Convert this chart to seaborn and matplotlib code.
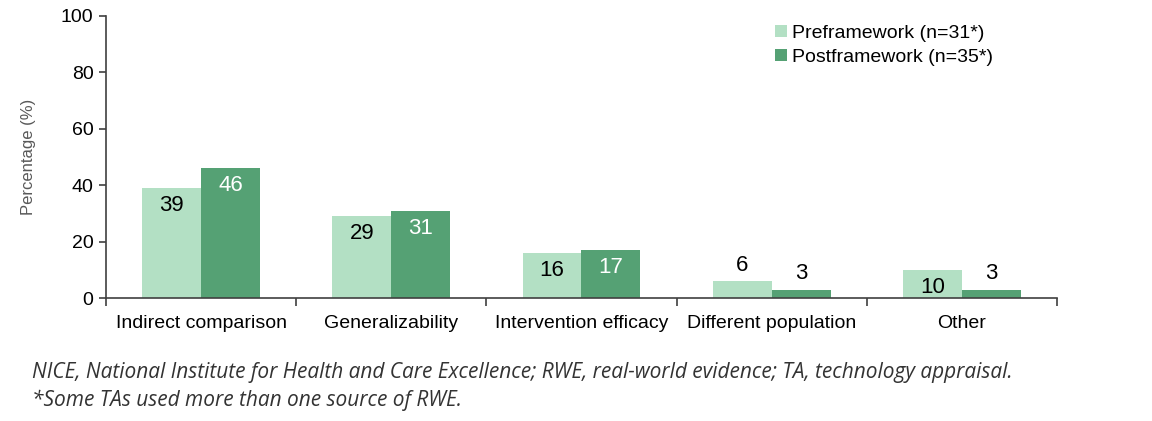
import matplotlib.pyplot as plt
import seaborn as sns
import pandas as pd
import numpy as np

# data
categories = ["Indirect comparison", "Generalizability", "Intervention efficacy",
              "Different population", "Other"]
pre_values = [39, 29, 16, 6, 10]
post_values = [46, 31, 17, 3, 3]
series_names = ["Preframework (n=31*)", "Postframework (n=35*)"]
y_ticks = [0, 20, 40, 60, 80, 100]
footnote = ("NICE, National Institute for Health and Care Excellence; RWE, real-world evidence; "
            "TA, technology appraisal.\n*Some TAs used more than one source of RWE.")

df = pd.DataFrame({
    "category": categories * 2,
    "value": pre_values + post_values,
    "series": [series_names[0]] * len(categories) + [series_names[1]] * len(categories),
})

sns.set_theme(style="white")
plt.rcParams["font.family"] = ["Liberation Sans", "DejaVu Sans"]

fig = plt.figure(figsize=(11.52, 4.21), dpi=100)
ax = fig.add_axes([0.092, 0.292, 0.8255, 0.67])

palette = ["#b3e0c4", "#55a174"]
sns.barplot(data=df, x="category", y="value", hue="series", palette=palette,
            width=0.62, saturation=1, linewidth=0, ax=ax, legend=True)

# value labels
for ci, cont in enumerate(ax.containers):
    for bar, v in zip(cont, pre_values if ci == 0 else post_values):
        x = bar.get_x() + bar.get_width() / 2
        h = bar.get_height()
        if h >= 10:
            col = "black" if ci == 0 else "white"
            ax.annotate(str(v), (x, h), xytext=(0, -5), textcoords="offset points",
                        ha="center", va="top", fontsize=16, color=col)
        else:
            ax.annotate(str(v), (x, h), xytext=(0, 4), textcoords="offset points",
                        ha="center", va="bottom", fontsize=16, color="black")

ax.set_ylim(0, 100)
ax.set_xlim(-0.5, len(categories) - 0.5)
ax.set_yticks(y_ticks)
ax.tick_params(axis="y", labelsize=14, labelcolor="black", length=5, width=1.2,
               color="#404040", direction="out", left=True, pad=4)
ax.tick_params(axis="x", which="major", labelsize=14, labelcolor="black", length=0, pad=12)
ax.set_xticks(np.arange(-0.5, len(categories)), minor=True)
ax.tick_params(axis="x", which="minor", length=6, width=1.2, color="#404040",
               direction="out", bottom=True)
ax.set_xlabel("")
ax.set_ylabel("Percentage (%)", fontsize=12, color="#595959", labelpad=18)

for s in ["top", "right"]:
    ax.spines[s].set_visible(False)
for s in ["left", "bottom"]:
    ax.spines[s].set_color("#404040")
    ax.spines[s].set_linewidth(1.2)

leg = ax.legend(loc="upper left", bbox_to_anchor=(0.685, 1.03), frameon=False,
                fontsize=14, handlelength=0.6, handleheight=0.6, handletextpad=0.3,
                labelspacing=0.35)
for t in leg.get_texts():
    t.set_color("black")

fig.text(0.028, 0.024, footnote, fontsize=15, style="italic", color="#333333",
         family=["Open Sans", "DejaVu Sans"], linespacing=1.4, va="bottom")

fig.savefig("out.png", dpi=100)
